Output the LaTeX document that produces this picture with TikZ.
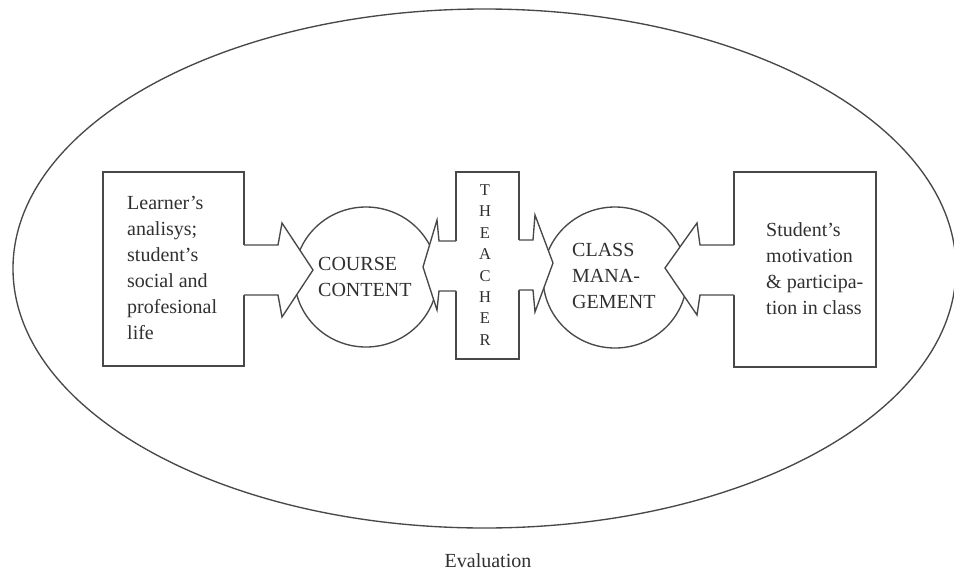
\documentclass[tikz,border=0pt]{standalone}
\usepackage{fontspec}
\setmainfont{Liberation Serif}
\usetikzlibrary{shapes.geometric}
\definecolor{linec}{HTML}{484848}
\definecolor{textc}{HTML}{303030}
\begin{document}
\begin{tikzpicture}[x=1pt,y=-1pt,
  shp/.style={draw=linec, line width=1.35pt, line join=miter, inner sep=0pt, outer sep=0pt},
  arrowfill/.style={fill=white},
  arrowline/.style={draw=linec, line width=1.35pt, line join=miter},
  lbl/.style={text=textc, font=\fontsize{20}{26}\selectfont, align=left, inner sep=0pt},
  tch/.style={text=textc, font=\fontsize{16.5}{21.4}\selectfont, align=center, inner sep=0pt}]
\useasboundingbox (0,0) rectangle (954,571);
% outer evaluation ellipse
\node[shp, ellipse, minimum width=943, minimum height=519] (evalell) at (484.5,268.5) {};
% circles
\node[shp, ellipse, minimum width=143, minimum height=140] (course) at (366,277) {};
\node[shp, ellipse, minimum width=144, minimum height=141] (class) at (615,277.5) {};
% boxes
\node[shp, rectangle, minimum width=141, minimum height=194] (lbox) at (173.5,269) {};
\node[shp, rectangle, minimum width=142, minimum height=195] (rbox) at (805,269.5) {};
\node[shp, rectangle, minimum width=63, minimum height=187] (teacher) at (487.5,265.5) {};
% arrow: left box -> course content
\fill[arrowfill] (242.7,245) -- (278,245) -- (282,223) -- (313,270) -- (282,317) -- (278,295) -- (242.7,295) -- cycle;
\draw[arrowline] (lbox.east |- 0,245) -- (278,245) -- (282,223) -- (313,270) -- (282,317) -- (278,295) -- (lbox.east |- 0,295);
% arrow: right box -> class management
\fill[arrowfill] (735.3,245) -- (700,245) -- (697,223) -- (665,268) -- (697,315) -- (700,295) -- (735.3,295) -- cycle;
\draw[arrowline] (rbox.west |- 0,245) -- (700,245) -- (697,223) -- (665,268) -- (697,315) -- (700,295) -- (rbox.west |- 0,295);
% teacher -> course content
\fill[arrowfill] (457.3,241) -- (439,241) -- (437,220) -- (423,267) -- (437,310) -- (439,291) -- (457.3,291) -- cycle;
\draw[arrowline] (teacher.west |- 0,241) -- (439,241) -- (437,220) -- (423,267) -- (437,310) -- (439,291) -- (teacher.west |- 0,291);
% teacher -> class management
\fill[arrowfill] (517.7,240) -- (533,240) -- (535,215) -- (553,263) -- (535,312) -- (533,290) -- (517.7,290) -- cycle;
\draw[arrowline] (teacher.east |- 0,240) -- (533,240) -- (535,215) -- (553,263) -- (535,312) -- (533,290) -- (teacher.east |- 0,290);
% texts
\node[lbl, anchor=west] (ltext) at (127,268) {Learner’s\\analisys;\\student’s\\social and\\profesional\\life};
\node[lbl, anchor=west] (ctext) at (318,277) {COURSE\\CONTENT};
\node[tch] (ttext) at (485,265) {T\\H\\E\\A\\C\\H\\E\\R};
\node[lbl, anchor=west] (mtext) at (572,276) {CLASS\\MANA-\\GEMENT};
\node[lbl, anchor=west] (rtext) at (766,269) {Student’s\\motivation\\\& participa-\\tion in class};
\node[lbl, anchor=center, font=\fontsize{20}{24}\selectfont] (evaltext) at (488,560.5) {Evaluation};
\end{tikzpicture}
\end{document}
